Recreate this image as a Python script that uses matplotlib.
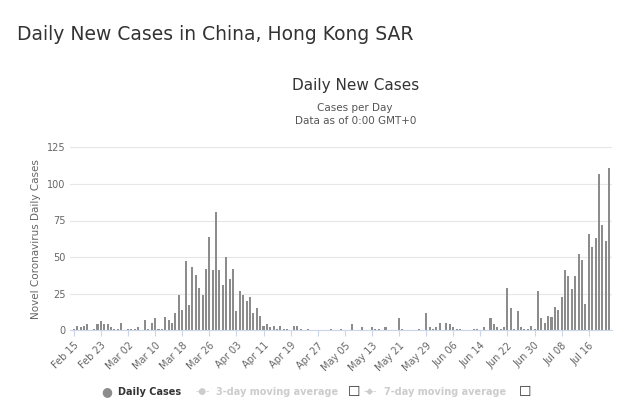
import matplotlib
matplotlib.use("Agg")
import matplotlib.pyplot as plt
import numpy as np
import datetime as dt

start = dt.date(2020, 2, 15)
cases = [1,3,2,3,4,0,1,4,6,4,4,2,1,1,5,0,1,1,1,2,0,7,1,5,8,1,1,9,7,5,12,24,14,47,17,43,38,29,24,42,64,41,81,41,31,50,35,42,13,27,24,20,23,12,15,10,3,4,2,3,1,3,1,1,0,3,3,1,0,1,0,0,0,0,0,0,
         1,
         0,0,1,0,0,4,0,0,2,0,0,2,1,1,0,2,0,0,0,8,1,0,0,0,0,1,0,12,2,1,2,5,0,5,4,2,1,1,0,0,0,1,1,0,2,0,8,4,2,1,2,29,15,1,13,2,1,1,3,1,27,8,5,10,9,16,14,23,41,37,28,37,52,48,18,66,57,63,107,72,61,111]
dates = [start + dt.timedelta(days=i) for i in range(len(cases))]
tick_idx = list(range(0, len(cases), 8))
tick_labels = [dates[i].strftime("%b %d") for i in tick_idx]

fig = plt.figure(figsize=(6.4, 4.2), dpi=100)
fig.text(0.027, 0.905, "Daily New Cases in China, Hong Kong SAR", fontsize=13.5, color="#333333")
fig.text(0.555, 0.785, "Daily New Cases", fontsize=11, color="#333333", ha="center")
fig.text(0.555, 0.735, "Cases per Day", fontsize=7.5, color="#555555", ha="center")
fig.text(0.555, 0.705, "Data as of 0:00 GMT+0", fontsize=7.5, color="#555555", ha="center")

ax = fig.add_axes([0.11, 0.214, 0.847, 0.435])
x = np.arange(len(cases))
ax.bar(x, cases, width=0.6, color="#8c8c8c")
ax.set_xlim(-1, len(cases))
ax.set_ylim(0, 125)
ax.set_yticks([0, 25, 50, 75, 100, 125])
ax.yaxis.grid(True, color="#e6e6e6", linewidth=0.8)
ax.set_axisbelow(True)
for s in ["top", "right", "left"]:
    ax.spines[s].set_visible(False)
ax.spines["bottom"].set_color("#ccd6eb")
ax.tick_params(axis="y", length=0, labelsize=7, colors="#666666")
ax.set_xticks(tick_idx)
ax.set_xticklabels(tick_labels, rotation=45, ha="right", rotation_mode="anchor")
ax.tick_params(axis="x", labelsize=7, colors="#666666", length=4, color="#ccd6eb")
ax.set_ylabel("Novel Coronavirus Daily Cases", fontsize=7.5, color="#666666")

ly = 0.067
fig.text(0.158, ly, "●", fontsize=9, color="#8c8c8c", va="center")
fig.text(0.185, ly, "Daily Cases", fontsize=7, color="#333333", va="center", fontweight="bold")
fig.text(0.305, ly, "-●-", fontsize=6.5, color="#cccccc", va="center")
fig.text(0.338, ly, "3-day moving average", fontsize=7, color="#cccccc", va="center", fontweight="bold")
fig.text(0.543, ly, "☐", fontsize=10, color="#333333", va="center")
fig.text(0.568, ly, "-◆-", fontsize=6.5, color="#cccccc", va="center")
fig.text(0.6, ly, "7-day moving average", fontsize=7, color="#cccccc", va="center", fontweight="bold")
fig.text(0.81, ly, "☐", fontsize=10, color="#333333", va="center")

fig.savefig("out.png", dpi=100, facecolor="white")
